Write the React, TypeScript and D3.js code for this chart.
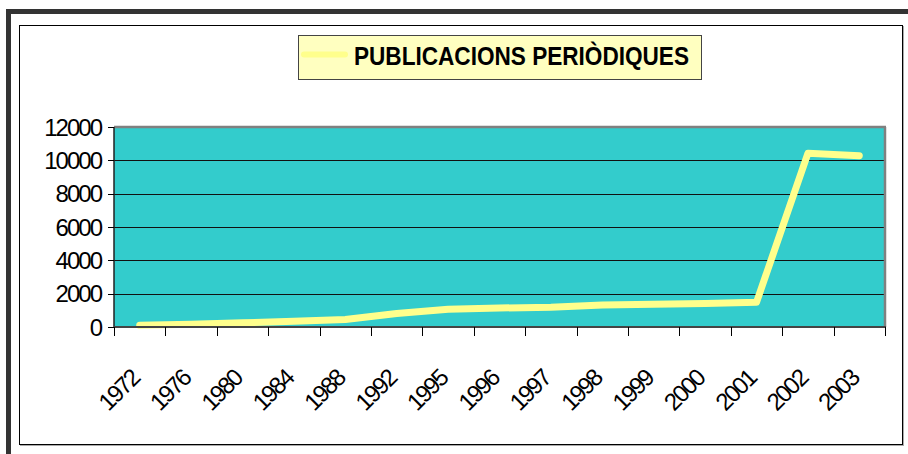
import React from "react";
import * as d3 from "d3";

const years = ["1972","1976","1980","1984","1988","1992","1995","1996","1997","1998","1999","2000","2001","2002","2003"];
const values = [100,170,250,340,450,810,1060,1140,1180,1320,1360,1410,1480,10420,10280];
const yTicks = [0,2000,4000,6000,8000,10000,12000];
const title = "PUBLICACIONS PERIÒDIQUES";

const W = 908, H = 454;
const PL = 114, PR = 885, PT = 127, PB = 327;
const FONT = "'Liberation Sans', Arial, sans-serif";

export default function App() {
  const x = d3.scaleBand<string>().domain(years).range([PL, PR]).padding(0);
  const y = d3.scaleLinear().domain([0, 12000]).range([PB, PT]);
  const line = d3.line<number>()
    .x((_, i) => (x(years[i]) as number) + x.bandwidth() / 2)
    .y((v) => y(v));
  const bw = x.bandwidth();
  const boundaries = d3.range(years.length + 1).map((i) => PL + i * bw);

  return (
    <svg width={W} height={H} style={{ position: "absolute", left: 0, top: 0, background: "#fff" }}>
      {/* outer frame */}
      <rect x={6} y={9} width={W - 6} height={5} fill="#333" />
      <rect x={6} y={9} width={5} height={H - 9} fill="#333" />
      {/* inner frame with shadow */}
      <rect x={20.5} y={26.5} width={883} height={419} fill="none" stroke="#aaa" strokeWidth={1} />
      <rect x={19.5} y={25.5} width={883} height={419} fill="#fff" stroke="#000" strokeWidth={1} />

      {/* title / legend box */}
      <rect x={298.5} y={35.5} width={403} height={44} fill="#FFFFC0" stroke="#444" strokeWidth={1} />
      <line x1={304} x2={345} y1={54.5} y2={54.5} stroke="#FFFF8C" strokeWidth={6} strokeLinecap="round" />
      <text x={354} y={64.5} fontFamily={FONT} fontWeight="bold" fontSize={25.5} fill="#000"
        textLength={335} lengthAdjust="spacingAndGlyphs">{title}</text>

      {/* plot area */}
      <rect x={PL} y={PT} width={PR - PL} height={PB - PT} fill="#33CCCC" />
      {yTicks.filter((t) => t > 0 && t < 12000).map((t) => (
        <line key={t} x1={PL} x2={PR} y1={Math.round(y(t)) + 0.5} y2={Math.round(y(t)) + 0.5} stroke="#111" strokeWidth={1} />
      ))}
      <line x1={PL} x2={PR + 1} y1={PT} y2={PT} stroke="#808080" strokeWidth={2.5} />
      <line x1={PR} x2={PR} y1={PT} y2={PB} stroke="#808080" strokeWidth={2.5} />

      {/* series */}
      <path d={line(values) || ""} fill="none" stroke="#FFFF8C" strokeWidth={7} strokeLinecap="round" strokeLinejoin="round" />

      {/* axes */}
      <line x1={PL} x2={PL} y1={PT} y2={PB} stroke="#222" strokeWidth={1.5} />
      <line x1={PL} x2={PR + 1} y1={PB} y2={PB} stroke="#444" strokeWidth={2} />
      {yTicks.map((t) => (
        <g key={t}>
          <line x1={108} x2={PL} y1={Math.round(y(t)) + 0.5} y2={Math.round(y(t)) + 0.5} stroke="#000" strokeWidth={1} />
          <text x={101} y={y(t) + 8.6} textAnchor="end" fontFamily={FONT} fontSize={24} letterSpacing={-2} fill="#000">{t}</text>
        </g>
      ))}
      {boundaries.map((b, i) => (
        <line key={i} x1={Math.round(b) + 0.5} x2={Math.round(b) + 0.5} y1={PB} y2={336} stroke="#000" strokeWidth={1} />
      ))}
      {years.map((yr) => {
        const cx = (x(yr) as number) + bw / 2;
        return (
          <text key={yr} transform={`translate(${cx + 1},${380}) rotate(-45)`} textAnchor="end"
            fontFamily={FONT} fontSize={24} letterSpacing={-2} fill="#000">{yr}</text>
        );
      })}
    </svg>
  );
}
